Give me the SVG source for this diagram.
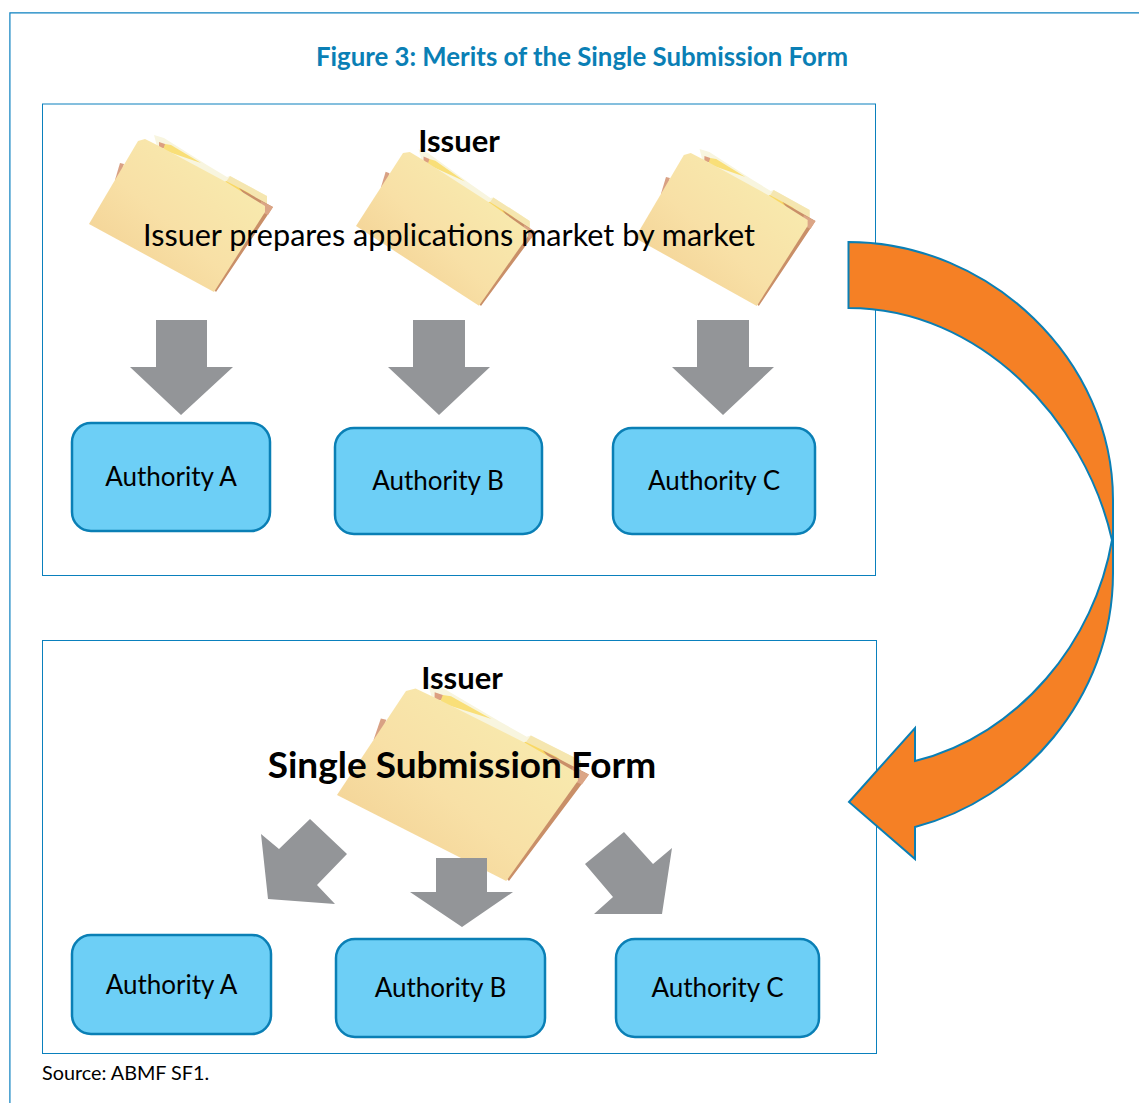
<svg xmlns="http://www.w3.org/2000/svg" width="1139" height="1103" viewBox="0 0 1139 1103">
<style>
text{font-family:"Lato","Noto Sans","Liberation Sans",sans-serif;fill:#000;text-anchor:middle}
.panel{fill:#fff;stroke:#0a80bd;stroke-width:1}
.auth{fill:#6dcff6;stroke:#0a7fb5;stroke-width:2.500}
.lbl{font-size:26px}
.head{font-size:31px;font-weight:700}
.arr{fill:#939598}
</style>
<defs>
<linearGradient id="fg" x1="0" y1="1" x2="1" y2="0"><stop offset="0" stop-color="#f1cd8e"/><stop offset=".45" stop-color="#f8e0a6"/><stop offset="1" stop-color="#f8efb2"/></linearGradient>
<g id="folder">
<path d="M26 -44L31 -61L35 -60L30 -42Z" fill="#d9a184"/>
<path d="M65 -89L75 -86L118 -59L138 -47L141 -48L178 -28L178 -12L130 -30L70 -70Z" fill="#f8f5df"/>
<path d="M141 -48L178 -28L178 -19L137 -42Z" fill="#f5e6b0"/>
<path d="M70 -82L76 -80L78 -76L70 -76Z" fill="#dc9f80"/>
<path d="M76 -80L82 -79L112 -61L74 -74Z" fill="#f9df78"/>
<path d="M137 -43L160 -31L176 -18L176 -12L130 -36Z" fill="#f9d863"/>
<path d="M150 -36L184 -17L127 68L120 60L170 -12Z" fill="#c98f68"/>
<path d="M172 -23L184 -17L179 -9L170 -13Z" fill="#dba586"/>
<path d="M0 0L49 -83L56 -85L70 -78L137 -42L176 -18L176 -12L125 68Z" fill="url(#fg)"/>
</g>
</defs>
<rect width="1139" height="1103" fill="#fff"/>
<path d="M9.900 1103V12.900H1139" fill="none" stroke="#0a80c0" stroke-width="1.200"/>
<text x="582" y="66" style="font-size:25.800px;font-weight:700;fill:#0a7fb5">Figure 3: Merits of the Single Submission Form</text>
<g id="panel-top"><rect class="panel" x="42.500" y="104" width="833" height="471.500"/></g>
<g id="panel-bottom"><rect class="panel" x="42.500" y="640.500" width="834" height="413"/></g>
<g id="folders">
<use href="#folder" transform="translate(89 224)"/>
<use href="#folder" transform="matrix(.978 .121 .011 .951 356 226)"/>
<use href="#folder" transform="matrix(.98 0 -.01 1 635 238)"/>
<use href="#folder" transform="matrix(1.367 .005 -.024 1.256 337 795)"/>
</g>
<g id="issuer-top"><text class="head" x="459" y="152">Issuer</text></g>
<g id="prep-label"><text x="449" y="246" style="font-size:30.600px">Issuer prepares applications market by market</text></g>
<g id="issuer-bottom"><text class="head" x="462" y="689">Issuer</text></g>
<g id="ssf-label"><text x="462" y="778" style="font-size:37px;font-weight:700">Single Submission Form</text></g>
<g id="connectors">
<path class="arr" d="M156 320H207V367H233L181 415L130 367H156Z"/>
<path class="arr" d="M413 320H465V367H490L439 415L388 367H413Z"/>
<path class="arr" d="M697 320H749V367H774L723 415L672 367H697Z"/>
<path class="arr" d="M436 858H487V892H513L462 927L410 892H436Z"/>
<path class="arr" d="M310 819L347 854L317 885L335 904L268 899L261 834L279 849Z"/>
<path class="arr" d="M624 832L653 864L672 848L662 914H594L613 897L585 864Z"/>
<path d="M848.500 242C990 242 1113 360 1113 500V573C1113 700 1020 800 915 827V859L849 802L915 728V761C1020 735 1095 640 1112 540C1085 420 980 308 848.500 308Z" fill="#f58025" stroke="#0a7fb5" stroke-width="2"/>
</g>
<g id="auth-a1"><rect class="auth" x="72" y="423" width="198" height="108" rx="19"/><text class="lbl" x="171" y="485.500">Authority A</text></g>
<g id="auth-b1"><rect class="auth" x="335" y="428" width="207" height="106" rx="19"/><text class="lbl" x="438" y="489.500">Authority B</text></g>
<g id="auth-c1"><rect class="auth" x="613" y="428" width="202" height="106" rx="19"/><text class="lbl" x="714" y="489.500">Authority C</text></g>
<g id="auth-a2"><rect class="auth" x="72" y="935" width="199" height="99" rx="19"/><text class="lbl" x="171.500" y="993.500">Authority A</text></g>
<g id="auth-b2"><rect class="auth" x="336" y="939" width="209" height="98" rx="19"/><text class="lbl" x="440.500" y="996.500">Authority B</text></g>
<g id="auth-c2"><rect class="auth" x="616" y="939" width="203" height="98" rx="19"/><text class="lbl" x="717.500" y="996.500">Authority C</text></g>
<g id="source"><text x="42" y="1080" style="font-size:19.800px;text-anchor:start">Source: ABMF SF1.</text></g>
</svg>
